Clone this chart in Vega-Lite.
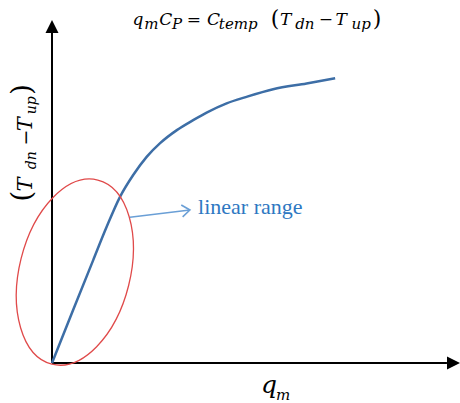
{
  "$schema": "https://vega.github.io/schema/vega-lite/v6.json",
  "width": 408,
  "height": 343,
  "autosize": "none",
  "padding": {"left": 52, "top": 20, "right": 0, "bottom": 40},
  "background": "white",
  "config": {"view": {"stroke": null}},
  "datasets": {
    "curve": [
      {"x": 0, "y": 0}, {"x": 5.2, "y": 15.5}, {"x": 10.1, "y": 30.0}, {"x": 13.4, "y": 39.7},
      {"x": 16.7, "y": 48.5}, {"x": 19.9, "y": 54.8}, {"x": 23.2, "y": 60.1}, {"x": 26.5, "y": 64.1},
      {"x": 30.6, "y": 67.9}, {"x": 34.6, "y": 70.8}, {"x": 37.9, "y": 73.0}, {"x": 42.8, "y": 75.7},
      {"x": 47.7, "y": 77.6}, {"x": 54.2, "y": 79.8}, {"x": 62.4, "y": 81.5}, {"x": 69.4, "y": 83.0}
    ],
    "axes": [
      {"x": 0, "y": 0, "x2": 0, "y2": 96.5},
      {"x": 0, "y": 0, "x2": 96.8, "y2": 0}
    ],
    "heads": [
      {"x": 0, "y": 100, "axis": "y"},
      {"x": 100, "y": 0, "axis": "x"}
    ],
    "ellipse": [{"x": 5.6, "y": 26.5}],
    "callout": [{"x": 19.1, "y": 42.5, "x2": 33.8, "y2": 44.6}],
    "texts": [
      {"part": "fmain", "x": 19.7, "y": 98.5, "t": "q"},
      {"part": "fmain", "x": 26.3, "y": 98.5, "t": "C"},
      {"part": "fmain", "x": 38.0, "y": 98.5, "t": "C"},
      {"part": "fmain", "x": 55.9, "y": 98.5, "t": "T"},
      {"part": "fmain", "x": 69.5, "y": 98.5, "t": "T"},
      {"part": "fops", "x": 33.0, "y": 98.5, "t": "="},
      {"part": "fops", "x": 65.4, "y": 98.5, "t": "−"},
      {"part": "fparen", "x": 53.6, "y": 98.3, "t": "("},
      {"part": "fparen", "x": 78.6, "y": 98.3, "t": ")"},
      {"part": "fsub", "x": 22.6, "y": 97.3, "t": "m"},
      {"part": "fsub", "x": 29.4, "y": 97.3, "t": "P"},
      {"part": "fsub", "x": 40.9, "y": 97.3, "t": "temp"},
      {"part": "fsub", "x": 59.6, "y": 97.3, "t": "dn"},
      {"part": "fsub", "x": 73.4, "y": 97.3, "t": "up"},
      {"part": "ymain", "x": -4.9, "y": 50.0, "t": "T"},
      {"part": "ymain", "x": -4.9, "y": 67.6, "t": "T"},
      {"part": "yops", "x": -4.9, "y": 63.4, "t": "−"},
      {"part": "yparen", "x": -5.1, "y": 47.0, "t": "("},
      {"part": "yparen", "x": -5.1, "y": 78.1, "t": ")"},
      {"part": "ysub", "x": -4.0, "y": 56.5, "t": "dn"},
      {"part": "ysub", "x": -4.0, "y": 72.5, "t": "up"},
      {"part": "xmain", "x": 51.2, "y": -8.7, "t": "q"},
      {"part": "xsub", "x": 54.9, "y": -10.8, "t": "m"},
      {"part": "label", "x": 35.8, "y": 43.4, "t": "linear range"}
    ]
  },
  "encoding": {
    "x": {"field": "x", "type": "quantitative", "scale": {"domain": [0, 100], "nice": false, "zero": false}, "axis": null},
    "y": {"field": "y", "type": "quantitative", "scale": {"domain": [0, 100], "nice": false, "zero": false}, "axis": null}
  },
  "layer": [
    {
      "data": {"name": "axes"},
      "mark": {"type": "rule", "color": "black", "strokeWidth": 2, "clip": false},
      "encoding": {"x2": {"field": "x2"}, "y2": {"field": "y2"}}
    },
    {
      "data": {"name": "heads"},
      "transform": [{"filter": "datum.axis == 'y'"}],
      "mark": {"type": "point", "shape": "M0,0L-0.5,1L0.5,1Z", "filled": true, "color": "black", "size": 676, "opacity": 1, "angle": 0, "clip": false}
    },
    {
      "data": {"name": "heads"},
      "transform": [{"filter": "datum.axis == 'x'"}],
      "mark": {"type": "point", "shape": "M0,0L-0.5,1L0.5,1Z", "filled": true, "color": "black", "size": 676, "opacity": 1, "angle": 90, "clip": false}
    },
    {
      "data": {"name": "curve"},
      "mark": {"type": "line", "interpolate": "monotone", "color": "#3d6ea6", "strokeWidth": 2.5, "clip": false}
    },
    {
      "data": {"name": "ellipse"},
      "mark": {"type": "point", "shape": "M0,-1C0.3225,-1,0.584,-0.5523,0.584,0C0.584,0.5523,0.3225,1,0,1C-0.3225,1,-0.584,0.5523,-0.584,0C-0.584,-0.5523,-0.3225,-1,0,-1Z", "filled": false, "color": "#e04a4a", "strokeWidth": 1.3, "size": 36024, "angle": 14, "opacity": 1, "clip": false}
    },
    {
      "data": {"name": "callout"},
      "mark": {"type": "rule", "color": "#6a9fd6", "strokeWidth": 1.6, "clip": false},
      "encoding": {"x2": {"field": "x2"}, "y2": {"field": "y2"}}
    },
    {
      "data": {"name": "callout"},
      "mark": {"type": "point", "shape": "M-1,-0.75L0,0L-1,0.75", "filled": false, "color": "#6a9fd6", "strokeWidth": 1.6, "size": 256, "angle": -6.65, "opacity": 1, "clip": false},
      "encoding": {"x": {"field": "x2", "type": "quantitative"}, "y": {"field": "y2", "type": "quantitative"}}
    },
    {
      "data": {"name": "texts"},
      "transform": [{"filter": "datum.part == 'label'"}],
      "mark": {"type": "text", "font": "Liberation Serif", "fontSize": 22, "color": "#2e78c2", "align": "left", "baseline": "alphabetic"},
      "encoding": {"text": {"field": "t"}}
    },
    {
      "data": {"name": "texts"},
      "transform": [{"filter": "datum.part == 'fmain'"}],
      "mark": {"type": "text", "font": "DejaVu Serif", "fontStyle": "italic", "fontSize": 17, "color": "black", "align": "left", "baseline": "alphabetic"},
      "encoding": {"text": {"field": "t"}}
    },
    {
      "data": {"name": "texts"},
      "transform": [{"filter": "datum.part == 'fops'"}],
      "mark": {"type": "text", "font": "DejaVu Serif", "fontSize": 17, "color": "black", "align": "left", "baseline": "alphabetic"},
      "encoding": {"text": {"field": "t"}}
    },
    {
      "data": {"name": "texts"},
      "transform": [{"filter": "datum.part == 'fparen'"}],
      "mark": {"type": "text", "font": "DejaVu Serif", "fontSize": 22, "color": "black", "align": "left", "baseline": "alphabetic"},
      "encoding": {"text": {"field": "t"}}
    },
    {
      "data": {"name": "texts"},
      "transform": [{"filter": "datum.part == 'fsub'"}],
      "mark": {"type": "text", "font": "DejaVu Serif", "fontStyle": "italic", "fontSize": 15, "color": "black", "align": "left", "baseline": "alphabetic"},
      "encoding": {"text": {"field": "t"}}
    },
    {
      "data": {"name": "texts"},
      "transform": [{"filter": "datum.part == 'ymain'"}],
      "mark": {"type": "text", "font": "DejaVu Serif", "fontStyle": "italic", "fontSize": 21, "color": "black", "align": "left", "baseline": "alphabetic", "angle": 270},
      "encoding": {"text": {"field": "t"}}
    },
    {
      "data": {"name": "texts"},
      "transform": [{"filter": "datum.part == 'yops'"}],
      "mark": {"type": "text", "font": "DejaVu Serif", "fontSize": 19, "color": "black", "align": "left", "baseline": "alphabetic", "angle": 270},
      "encoding": {"text": {"field": "t"}}
    },
    {
      "data": {"name": "texts"},
      "transform": [{"filter": "datum.part == 'yparen'"}],
      "mark": {"type": "text", "font": "DejaVu Serif", "fontSize": 28, "color": "black", "align": "left", "baseline": "alphabetic", "angle": 270},
      "encoding": {"text": {"field": "t"}}
    },
    {
      "data": {"name": "texts"},
      "transform": [{"filter": "datum.part == 'ysub'"}],
      "mark": {"type": "text", "font": "DejaVu Serif", "fontStyle": "italic", "fontSize": 14, "color": "black", "align": "left", "baseline": "alphabetic", "angle": 270},
      "encoding": {"text": {"field": "t"}}
    },
    {
      "data": {"name": "texts"},
      "transform": [{"filter": "datum.part == 'xmain'"}],
      "mark": {"type": "text", "font": "DejaVu Serif", "fontStyle": "italic", "fontSize": 25, "color": "black", "align": "left", "baseline": "alphabetic"},
      "encoding": {"text": {"field": "t"}}
    },
    {
      "data": {"name": "texts"},
      "transform": [{"filter": "datum.part == 'xsub'"}],
      "mark": {"type": "text", "font": "DejaVu Serif", "fontStyle": "italic", "fontSize": 15, "color": "black", "align": "left", "baseline": "alphabetic"},
      "encoding": {"text": {"field": "t"}}
    }
  ]
}
